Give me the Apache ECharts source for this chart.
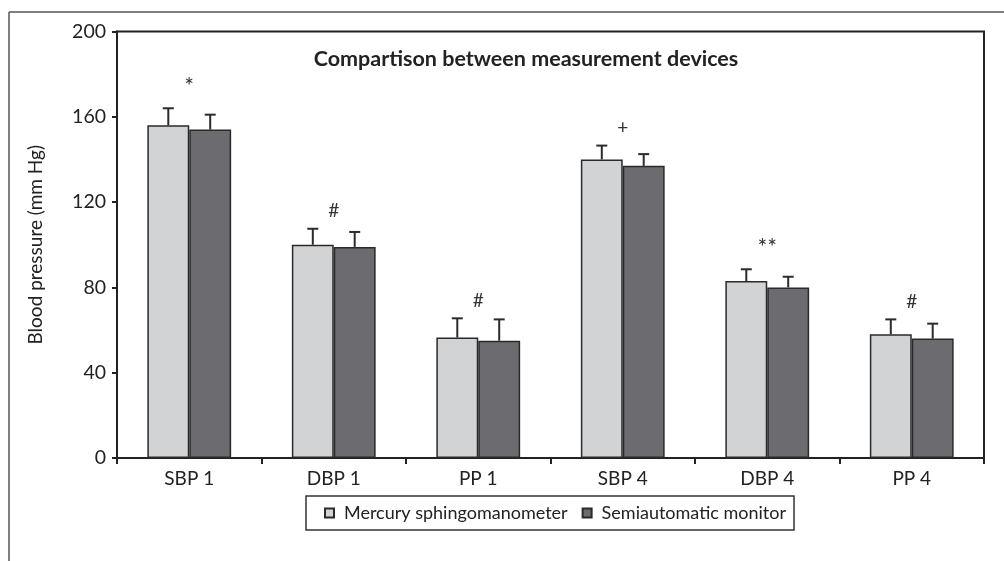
<!DOCTYPE html>
<html>
<head>
<meta charset="utf-8">
<script src="https://cdn.jsdelivr.net/npm/echarts@6/dist/echarts.min.js"></script>
<style>
html,body{margin:0;padding:0;background:#fff;}
#chart{width:1004px;height:561px;}
</style>
</head>
<body>
<div id="chart"></div>
<script>
const categories = ['SBP 1', 'DBP 1', 'PP 1', 'SBP 4', 'DBP 4', 'PP 4'];
const mercury = [156, 100, 56.5, 140, 83, 58];
const mercuryErr = [8, 7.5, 9, 6.5, 5.5, 7];
const semi = [154, 99, 55, 137, 80, 56];
const semiErr = [7, 7, 10, 5.5, 5, 7];
const marks = ['*', '#', '#', '+', '**', '#'];
const seriesNames = ['Mercury sphingomanometer', 'Semiautomatic monitor'];
const yTicks = [0, 40, 80, 120, 160, 200];

const FONT = 'Lato, "Open Sans", sans-serif';
const BAR_FRAC = 0.29; // each bar's share of category width

const chart = echarts.init(document.getElementById('chart'));

function errSeries(vals, errs, side) {
  return {
    type: 'custom',
    z: 5,
    silent: true,
    data: vals.map((v, i) => [i, v, v + errs[i]]),
    renderItem: function (params, api) {
      const i = api.value(0);
      const catW = api.size([1, 0])[0];
      const bw = catW * BAR_FRAC;
      const base = api.coord([i, api.value(1)]);
      const top = api.coord([i, api.value(2)]);
      const x = base[0] + side * bw / 2;
      const cap = 5.5;
      const st = { stroke: '#2b2b2b', lineWidth: 2 };
      return {
        type: 'group',
        children: [
          { type: 'line', shape: { x1: x, y1: base[1], x2: x, y2: top[1] }, style: st },
          { type: 'line', shape: { x1: x - cap, y1: top[1], x2: x + cap, y2: top[1] }, style: st }
        ]
      };
    }
  };
}

const markSeries = {
  type: 'custom',
  z: 6,
  silent: true,
  data: marks.map((m, i) => [i, Math.max(mercury[i] + mercuryErr[i], semi[i] + semiErr[i])]),
  renderItem: function (params, api) {
    const i = api.value(0);
    const p = api.coord([i, api.value(1)]);
    const m = marks[params.dataIndex];
    const isStar = m.indexOf('*') >= 0;
    return {
      type: 'text',
      style: {
        text: m,
        x: p[0],
        y: p[1] - (isStar ? 10 : 8),
        textAlign: 'center',
        textVerticalAlign: 'bottom',
        font: (isStar ? '23px ' : '19px ') + FONT,
        fill: '#333'
      }
    };
  }
};

const option = {
  backgroundColor: '#fff',
  animation: false,
  title: {
    text: 'Compartison between measurement devices',
    left: 521,
    textAlign: 'center',
    top: 43,
    textStyle: { fontFamily: FONT, fontWeight: 'bold', fontSize: 21.5, color: '#222' }
  },
  graphic: [
    { type: 'line', shape: { x1: 9, y1: 12, x2: 1004, y2: 12 }, style: { stroke: '#555', lineWidth: 1.5 } },
    { type: 'line', shape: { x1: 9, y1: 12, x2: 9, y2: 561 }, style: { stroke: '#555', lineWidth: 1.5 } }
  ],
  legend: {
    data: seriesNames,
    left: 306,
    top: 496,
    orient: 'horizontal',
    itemWidth: 9,
    itemHeight: 9,
    itemGap: 14,
    padding: [8, 8, 8, 18],
    borderColor: '#333',
    borderWidth: 1.5,
    textStyle: { fontFamily: FONT, fontSize: 18, color: '#222', padding: [0, 0, 0, 5] },
    icon: 'rect'
  },
  grid: {
    left: 117, right: 20, top: 31.5, bottom: 103,
    show: true, borderColor: '#222', borderWidth: 2
  },
  xAxis: {
    type: 'category',
    data: categories,
    axisLine: { lineStyle: { color: '#222', width: 2 } },
    axisTick: { show: true, length: 6, lineStyle: { color: '#222', width: 2 } },
    axisLabel: { fontFamily: FONT, fontSize: 19, color: '#222', margin: 11 }
  },
  yAxis: {
    type: 'value',
    min: 0, max: 200, interval: 40,
    name: 'Blood pressure (mm Hg)',
    nameLocation: 'middle',
    nameGap: 72,
    nameTextStyle: { fontFamily: FONT, fontSize: 19, color: '#222' },
    splitLine: { show: false },
    axisLine: { show: true, lineStyle: { color: '#222', width: 2 } },
    axisTick: { show: true, length: 5, lineStyle: { color: '#222', width: 2 } },
    axisLabel: { fontFamily: FONT, fontSize: 19.5, color: '#222', margin: 11,
      formatter: v => yTicks.includes(v) ? String(v) : '' }
  },
  series: [
    {
      name: seriesNames[0], type: 'bar', data: mercury,
      barGap: '0%', barCategoryGap: '42%',
      itemStyle: { color: '#d2d3d5', borderColor: '#2a2a2a', borderWidth: 1.5 }
    },
    {
      name: seriesNames[1], type: 'bar', data: semi,
      barGap: '0%', barCategoryGap: '42%',
      itemStyle: { color: '#6b6b70', borderColor: '#2a2a2a', borderWidth: 1.5 }
    },
    errSeries(mercury, mercuryErr, -1),
    errSeries(semi, semiErr, 1),
    markSeries
  ]
};
chart.setOption(option);
</script>
</body>
</html>
